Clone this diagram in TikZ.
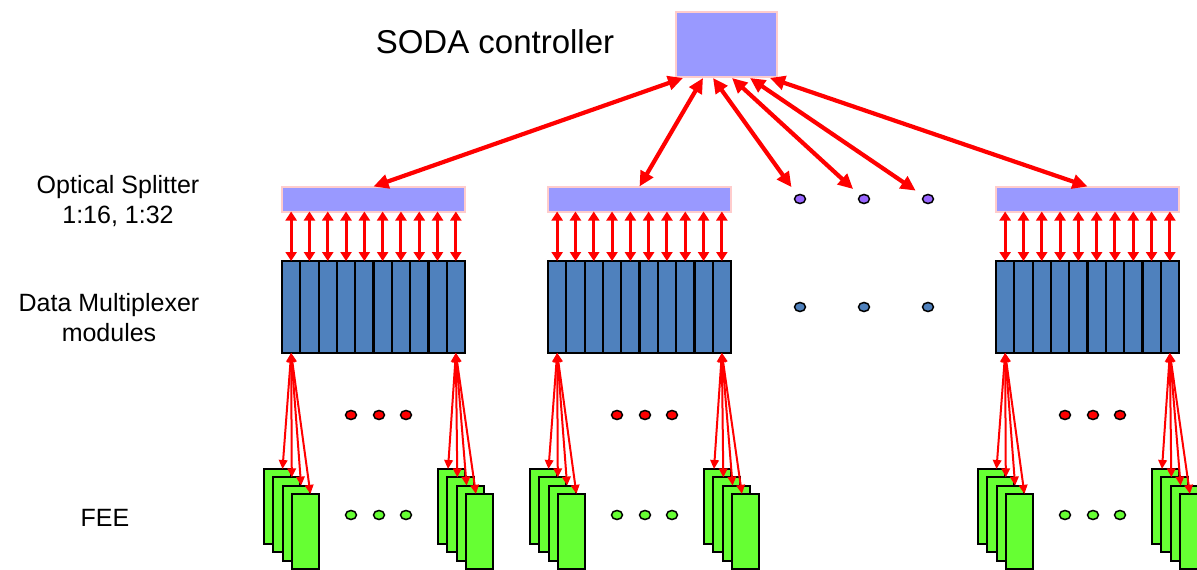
\documentclass[tikz,border=0pt]{standalone}
\usepackage{fontspec}
\setmainfont{Liberation Sans}
\usetikzlibrary{arrows.meta,calc,shapes.geometric}
\definecolor{lav}{HTML}{9999FF}
\definecolor{pinkedge}{HTML}{FFCCCC}
\definecolor{dmblue}{HTML}{4F81BD}
\definecolor{feegreen}{HTML}{66FF33}
\definecolor{dotpurple}{HTML}{9966FF}
\begin{document}
\begin{tikzpicture}[x=1pt,y=-1pt,
  lavbox/.style={draw=pinkedge, line width=2pt, fill=lav, inner sep=0pt, outer sep=0pt},
  slot/.style={draw=black, line width=2.2pt, fill=dmblue, minimum width=18.3pt,
               minimum height=92pt, inner sep=0pt, outer sep=0pt},
  card/.style={draw=black, line width=1.8pt, fill=feegreen, minimum width=27pt,
               minimum height=75pt, inner sep=0pt, outer sep=0pt, anchor=north west},
  dot/.style={ellipse, draw=black, line width=1.5pt, minimum width=11pt,
              minimum height=9pt, inner sep=0pt},
  label/.style={font=\fontsize{25}{30}\selectfont, align=center, inner sep=0pt},
  bigarrow/.style={red, line width=4.2pt,
                   {Triangle[length=15pt,width=14pt]}-{Triangle[length=15pt,width=14pt]}},
  midarrow/.style={red, line width=3pt,
                   {Triangle[length=9pt,width=11pt]}-{Triangle[length=9pt,width=11pt]}},
  feearrow/.style={red, line width=2pt,
                   {Triangle[length=9pt,width=8.5pt]}-{Triangle[length=9pt,width=8.5pt]}}
]
\useasboundingbox (0,0) rectangle (1197,570);
\clip (0,0) rectangle (1197,570);

% controller
\node[lavbox, minimum width=101pt, minimum height=65pt] (soda) at (726.5,44.5) {};
\node[font=\fontsize{33}{40}\selectfont, inner sep=0pt] (sodalbl) at (495,42) {SODA controller};

% row labels
\node[label] (lblsplit) at (118,201) {Optical Splitter\\1:16, 1:32};
\node[label] (lbldm) at (109,318) {Data Multiplexer\\modules};
\node[label] (lblfee) at (105,518) {FEE};

% three branches: splitter, multiplexer crate, front-end cards
\foreach \g/\o in {1/0, 2/266, 4/714} {
  \node[lavbox, minimum width=183pt, minimum height=25pt] (sp\g) at (373.5+\o,199) {};
  \foreach \k in {1,...,10} {
    \node[slot] (dm\g-\k) at ({282+\o+18.3*(\k-0.5)},307) {};
    \draw[midarrow] (dm\g-\k.north |- sp\g.south) -- (dm\g-\k.north);
  }
  % card stacks
  \foreach \k in {1,...,4} {
    \node[card] (cl\g-\k) at ({264+\o+9.3*(\k-1)},{469+8.3*(\k-1)}) {};
  }
  \foreach \k in {1,...,4} {
    \node[card] (cr\g-\k) at ({438+\o+9.3*(\k-1)},{469+8.3*(\k-1)}) {};
  }
  \foreach \k in {1,...,4} {
    \coordinate (tl\g-\k) at ($(cl\g-\k.north west)+(18.5,0)$);
    \coordinate (tr\g-\k) at ($(cr\g-\k.north west)+(10,0)$);
    \draw[feearrow] (dm\g-1.south) -- (tl\g-\k);
    \draw[feearrow] (dm\g-10.south) -- (tr\g-\k);
  }
  % continuation dots
  \foreach \d/\x in {1/351, 2/379, 3/406} {
    \node[dot, fill=red] (rd\g-\d) at (\x+\o,415) {};
    \node[dot, fill=feegreen] (gd\g-\d) at (\x+\o,515) {};
  }
}

% dots for the branches not drawn
\foreach \d/\x in {1/800, 2/864, 3/928} {
  \node[dot, fill=dotpurple] (pd\d) at (\x,199) {};
  \node[dot, fill=dmblue] (bd\d) at (\x,307) {};
}

% links from the controller
\foreach \i/\dx in {1/7, 2/27, 3/37, 4/56, 5/74, 6/94} {
  \coordinate (s\i) at ($(soda.south west)+(\dx,1)$);
}
\draw[bigarrow] (s1) -- (sp1.north);
\draw[bigarrow] (s2) -- (sp2.north);
\draw[bigarrow, shorten >=9pt] (s3) -- (pd1);
\draw[bigarrow, shorten >=9pt] (s4) -- (pd2);
\draw[bigarrow, shorten >=9pt] (s5) -- (pd3);
\draw[bigarrow] (s6) -- (sp4.north);
\end{tikzpicture}
\end{document}
